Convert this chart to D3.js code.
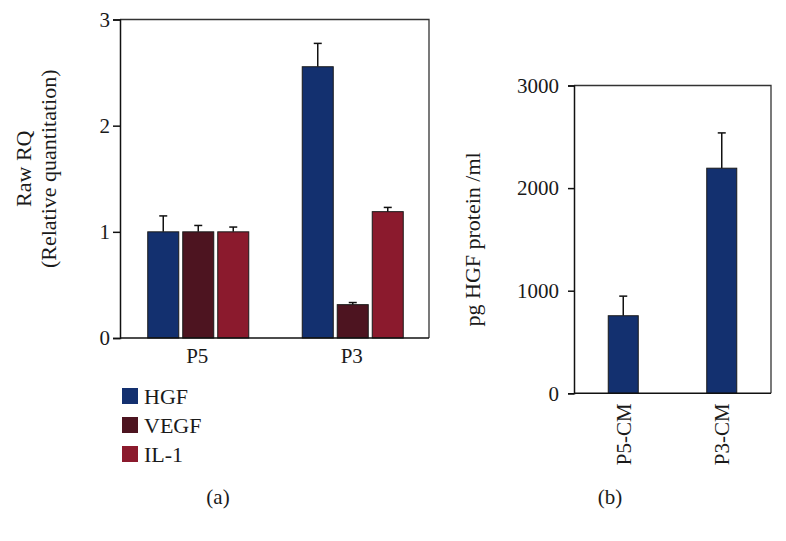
<!DOCTYPE html>
<html>
<head>
<meta charset="utf-8">
<script src="https://cdn.jsdelivr.net/npm/d3@7"></script>
<style>
  html, body { margin: 0; padding: 0; background: #fff; }
  svg { display: block; }
  text { font-family: "Liberation Serif", "Times New Roman", serif; fill: #1a1a1a; }
</style>
</head>
<body>
<svg id="chart" width="786" height="541"></svg>
<script>
// ---------- data ----------
const categoriesA = ["P5", "P3"];
const seriesNames = ["HGF", "VEGF", "IL-1"];
const seriesColors = ["#13306f", "#4d1420", "#8b1a2d"];
const hgfRQ = [1.0, 2.555];
const hgfRQErr = [0.15, 0.22];
const vegfRQ = [1.0, 0.314];
const vegfRQErr = [0.06, 0.02];
const il1RQ = [1.0, 1.19];
const il1RQErr = [0.045, 0.04];
const ticksA = [0, 1, 2, 3];

const categoriesB = ["P5-CM", "P3-CM"];
const hgfProtein = [756, 2194];
const hgfProteinErr = [191, 344];
const ticksB = [0, 1000, 2000, 3000];

const svg = d3.select("#chart");

// ---------- panel (a) ----------
const A = { left: 120, right: 429, top: 19.5, bottom: 338 };
const x0 = d3.scaleBand().domain(categoriesA).range([A.left, A.right]).padding(0);
const groupW = 101;
const x1 = d3.scaleBand().domain(seriesNames).range([0, groupW]).paddingInner(4 / 35).paddingOuter(0);
const yA = d3.scaleLinear().domain([0, 3]).range([A.bottom, A.top]);

const seriesVals = [hgfRQ, vegfRQ, il1RQ];
const seriesErrs = [hgfRQErr, vegfRQErr, il1RQErr];
const barsA = [];
categoriesA.forEach((c, ci) => {
  seriesNames.forEach((s, si) => {
    barsA.push({ cat: c, ser: s, v: seriesVals[si][ci], e: seriesErrs[si][ci], color: seriesColors[si] });
  });
});
const gxA = d => x0(d.cat) + (x0.bandwidth() - groupW) / 2 + 1 + x1(d.ser);

const gA = svg.append("g");
gA.append("path")
  .attr("d", `M${A.left},${A.top}H${A.right}V${A.bottom}`)
  .attr("fill", "none").attr("stroke", "#333").attr("stroke-width", 1.3);

const ebA = gA.selectAll(".ebA").data(barsA).enter().append("g");
ebA.append("line")
  .attr("x1", d => gxA(d) + x1.bandwidth() / 2).attr("x2", d => gxA(d) + x1.bandwidth() / 2)
  .attr("y1", d => yA(d.v)).attr("y2", d => yA(d.v + d.e))
  .attr("stroke", "#111").attr("stroke-width", 1.5);
ebA.append("line")
  .attr("x1", d => gxA(d) + x1.bandwidth() / 2 - 4).attr("x2", d => gxA(d) + x1.bandwidth() / 2 + 4)
  .attr("y1", d => yA(d.v + d.e)).attr("y2", d => yA(d.v + d.e))
  .attr("stroke", "#111").attr("stroke-width", 1.5);

gA.selectAll(".barA").data(barsA).enter().append("rect")
  .attr("x", d => gxA(d)).attr("width", x1.bandwidth())
  .attr("y", d => yA(d.v)).attr("height", d => yA(0) - yA(d.v))
  .attr("fill", d => d.color).attr("stroke", "#1a1a1a").attr("stroke-width", 1);

const yAxisA = gA.append("g").attr("transform", `translate(${A.left},0)`)
  .call(d3.axisLeft(yA).tickValues(ticksA).tickFormat(d3.format("d")).tickSize(7).tickPadding(3));
const xAxisA = gA.append("g").attr("transform", `translate(0,${A.bottom})`)
  .call(d3.axisBottom(x0).tickSize(0).tickPadding(10));
[yAxisA, xAxisA].forEach(ax => {
  ax.select(".domain").attr("stroke", "#111").attr("stroke-width", 1.5);
  ax.selectAll(".tick line").attr("stroke", "#111").attr("stroke-width", 1.5);
  ax.selectAll("text").attr("font-size", 21).attr("fill", "#1a1a1a")
    .attr("font-family", "Liberation Serif, Times New Roman, serif");
});
xAxisA.select(".domain").attr("d", `M${A.left},0H${A.right}`);
xAxisA.selectAll("text").attr("dy", "0.71em");

const ylabA = gA.append("text").attr("transform", `translate(31,${(A.top + A.bottom) / 2 - 10}) rotate(-90)`)
  .attr("text-anchor", "middle").attr("font-size", 22);
ylabA.append("tspan").attr("x", 0).attr("dy", 0).text("Raw RQ");
ylabA.append("tspan").attr("x", 0).attr("dy", 25).text("(Relative quantitation)");

const leg = gA.selectAll(".leg").data(seriesNames).enter().append("g")
  .attr("transform", (d, i) => `translate(122,${388 + i * 29})`);
leg.append("rect").attr("width", 16).attr("height", 16)
  .attr("fill", (d, i) => seriesColors[i]);
leg.append("text").attr("x", 22).attr("y", 8).attr("dy", "0.35em")
  .attr("font-size", 22).text(d => d);

gA.append("text").attr("x", 218).attr("y", 497).attr("dy", "0.35em")
  .attr("text-anchor", "middle").attr("font-size", 21).text("(a)");

// ---------- panel (b) ----------
const B = { left: 574, right: 771, top: 85.5, bottom: 393.3 };
const xB = d3.scaleBand().domain(categoriesB).range([B.left, B.right]).padding(0);
const yB = d3.scaleLinear().domain([0, 3000]).range([B.bottom, B.top]);
const barW = 30;
const barsB = categoriesB.map((c, i) => ({ cat: c, v: hgfProtein[i], e: hgfProteinErr[i] }));
const cxB = d => xB(d.cat) + xB.bandwidth() / 2;

const gB = svg.append("g");
gB.append("path")
  .attr("d", `M${B.left},${B.top}H${B.right}V${B.bottom}`)
  .attr("fill", "none").attr("stroke", "#333").attr("stroke-width", 1.3);

const ebB = gB.selectAll(".ebB").data(barsB).enter().append("g");
ebB.append("line")
  .attr("x1", cxB).attr("x2", cxB)
  .attr("y1", d => yB(d.v)).attr("y2", d => yB(d.v + d.e))
  .attr("stroke", "#111").attr("stroke-width", 1.5);
ebB.append("line")
  .attr("x1", d => cxB(d) - 4).attr("x2", d => cxB(d) + 4)
  .attr("y1", d => yB(d.v + d.e)).attr("y2", d => yB(d.v + d.e))
  .attr("stroke", "#111").attr("stroke-width", 1.5);

gB.selectAll(".barB").data(barsB).enter().append("rect")
  .attr("x", d => cxB(d) - barW / 2).attr("width", barW)
  .attr("y", d => yB(d.v)).attr("height", d => yB(0) - yB(d.v))
  .attr("fill", seriesColors[0]).attr("stroke", "#1a1a1a").attr("stroke-width", 1);

const yAxisB = gB.append("g").attr("transform", `translate(${B.left},0)`)
  .call(d3.axisLeft(yB).tickValues(ticksB).tickFormat(d3.format("d")).tickSize(6).tickPadding(9));
const xAxisB = gB.append("g").attr("transform", `translate(0,${B.bottom})`)
  .call(d3.axisBottom(xB).tickSize(0).tickPadding(9));
[yAxisB, xAxisB].forEach(ax => {
  ax.select(".domain").attr("stroke", "#111").attr("stroke-width", 1.5);
  ax.selectAll(".tick line").attr("stroke", "#111").attr("stroke-width", 1.5);
  ax.selectAll("text").attr("font-size", 21).attr("fill", "#1a1a1a")
    .attr("font-family", "Liberation Serif, Times New Roman, serif");
});
xAxisB.select(".domain").attr("d", `M${B.left},0H${B.right}`);
xAxisB.selectAll("text")
  .attr("transform", "rotate(-90)")
  .attr("text-anchor", "end")
  .attr("x", -10).attr("y", 0).attr("dy", "0.35em");

gB.append("text").attr("transform", `translate(472,${(B.top + B.bottom) / 2}) rotate(-90)`)
  .attr("text-anchor", "middle").attr("font-size", 22).attr("dy", "0.35em").text("pg HGF protein /ml");

gB.append("text").attr("x", 610).attr("y", 497).attr("dy", "0.35em")
  .attr("text-anchor", "middle").attr("font-size", 21).text("(b)");
</script>
</body>
</html>
